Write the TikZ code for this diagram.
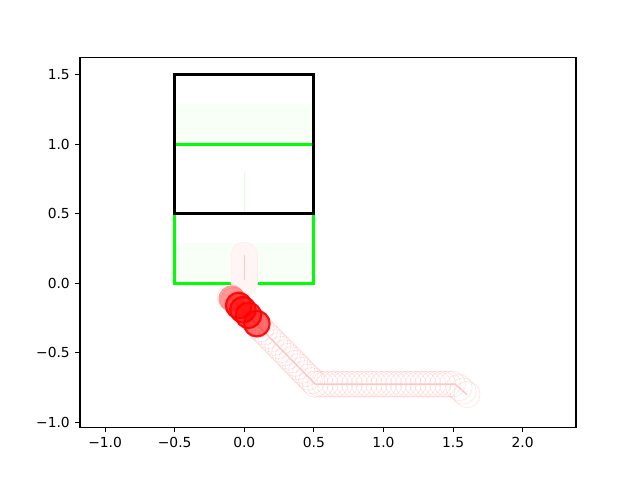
\documentclass[tikz,border=0pt]{standalone}
\usepackage{fontspec}
\setmainfont{DejaVu Sans}
\usetikzlibrary{calc}
\definecolor{lime}{HTML}{00FF00}
\definecolor{paleline}{HTML}{FFC4C4}
\tikzset{
  spine/.style={line width=0.8pt,black},
  axtick/.style={line width=0.8pt,black},
  ticklabel/.style={font=\fontsize{10}{12}\selectfont,inner sep=0pt},
  boxblack/.style={line width=2pt,black},
  boxgreen/.style={line width=2.2pt,lime},
  tint/.style={fill=lime!3},
  ghost/.style={draw=red,draw opacity=0.1,line width=0.5pt},
  hit/.style={fill=red,fill opacity=0.55,draw=red,draw opacity=0.9,line width=1.6pt}
}

\begin{document}
\begin{tikzpicture}[x=3.5357cm,y=3.5357cm]
  \useasboundingbox (-1.755,-1.413) rectangle (2.843,2.035);
  % data area
  \begin{scope}
    \clip (-1.180,-1.034) rectangle (2.383,1.621);
    \fill[tint] (-0.5,0) rectangle (0.5,0.29);
    \fill[tint] (-0.5,1.0) rectangle (0.5,1.29);
    \draw[lime!12,line width=1pt] (0,0.5) -- (0,0.8);
    \draw[boxgreen] (-0.5,0) rectangle (0.5,1);
    \draw[boxblack] (-0.5,0.5) rectangle (0.5,1.5);
    % trajectory
    \coordinate (p0) at (-0.1,-0.1);
    \coordinate (p1) at (0.51,-0.725);
    \coordinate (p2) at (1.515,-0.725);
    \coordinate (p3) at (1.6,-0.8);
    \draw[red!8,fill=red!4,rounded corners=9.4pt] (-0.095,-0.09) rectangle (0.095,0.295);
    \draw[paleline,line width=1pt] (0,0.2) -- (0,0.02);
    \foreach \t in {0,0.04,...,1.0}
      \draw[ghost] ($(p0)!\t!(p1)$) circle (0.094);
    \foreach \t in {0.035,0.07,...,1.0}
      \draw[ghost] ($(p1)!\t!(p2)$) circle (0.094);
    \foreach \t in {0.33,0.66,1.0}
      \draw[ghost] ($(p2)!\t!(p3)$) circle (0.094);
    \draw[paleline,line width=1pt] (p0) -- (p1) -- (p2) -- (p3);
    \fill[red,fill opacity=0.4] (-0.09,-0.11) circle (0.095);
    \foreach \x/\y in {-0.04/-0.16,-0.01/-0.19,0.03/-0.23,0.09/-0.29}
      \draw[hit] (\x,\y) circle (0.092);
  \end{scope}
  % axes
  \draw[spine] (-1.180,-1.034) rectangle (2.383,1.621);
  \foreach \x/\lab [count=\i] in {-1.0/−1.0,-0.5/−0.5,0.0/0.0,0.5/0.5,1.0/1.0,1.5/1.5,2.0/2.0}
    \draw[axtick] (\x,-1.034) -- ++(0,-3.5pt)
      node[ticklabel,anchor=north,yshift=-3.5pt] (xl\i) {\lab};
  \foreach \y/\lab [count=\i] in {-1.0/−1.0,-0.5/−0.5,0.0/0.0,0.5/0.5,1.0/1.0,1.5/1.5}
    \draw[axtick] (-1.180,\y) -- ++(-3.5pt,0)
      node[ticklabel,anchor=east,xshift=-3.5pt] (yl\i) {\lab};
\end{tikzpicture}
\end{document}
